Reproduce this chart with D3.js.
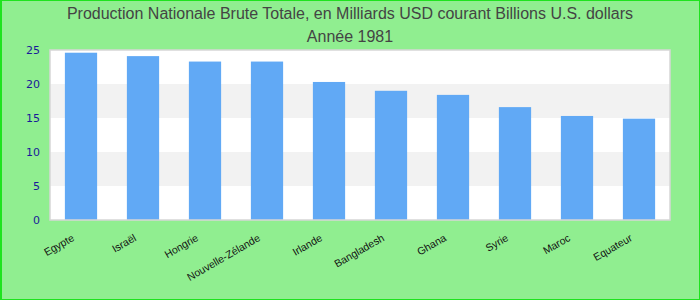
<!DOCTYPE html>
<html><head><meta charset="utf-8">
<script src="https://cdn.jsdelivr.net/npm/d3@7"></script>
<style>body{margin:0;background:#fff}svg{display:block}</style>
</head><body>
<script>
const categories = ["Egypte","Israël","Hongrie","Nouvelle-Zélande","Irlande","Bangladesh","Ghana","Syrie","Maroc","Equateur"];
const values = [24.6, 24.1, 23.3, 23.3, 20.3, 19.0, 18.4, 16.6, 15.3, 14.9];
const yTicks = [0,5,10,15,20,25];
const titleLines = ["Production Nationale Brute Totale, en Milliards USD courant Billions U.S. dollars","Année 1981"];

const W=700,H=300;
const svg=d3.select("body").append("svg").attr("width",W).attr("height",H);
svg.append("rect").attr("x",0).attr("y",0).attr("width",W).attr("height",H).attr("fill","#90ee90");
svg.append("rect").attr("x",1).attr("y",0.5).attr("width",W-1.5).attr("height",H-1).attr("fill","none").attr("stroke","#1ee31e").attr("stroke-width",1);
svg.append("rect").attr("x",0).attr("y",0).attr("width",2).attr("height",H).attr("fill","#1ee31e");

const m={l:50,r:30,t:50,b:80};
const x=d3.scaleBand().domain(categories).range([m.l,W-m.r]).paddingInner(0.48).paddingOuter(0.24);
const y=d3.scaleLinear().domain([0,25]).range([H-m.b,m.t]);

const g=svg.append("g");
g.append("rect").attr("x",m.l).attr("y",m.t).attr("width",W-m.l-m.r).attr("height",H-m.t-m.b).attr("fill","#fff");
for(let i=0;i<yTicks.length-1;i++){
  if(i%2===1){
    g.append("rect").attr("x",m.l).attr("width",W-m.l-m.r)
     .attr("y",y(yTicks[i+1])).attr("height",y(yTicks[i])-y(yTicks[i+1])).attr("fill","#f2f2f2");
  }
}
g.selectAll(".bar").data(values).enter().append("rect")
 .attr("x",(d,i)=>x(categories[i])).attr("width",x.bandwidth())
 .attr("y",d=>y(d)).attr("height",d=>y(0)-y(d)).attr("fill","#61a9f5");
g.append("rect").attr("x",m.l).attr("y",m.t).attr("width",W-m.l-m.r).attr("height",H-m.t-m.b)
 .attr("fill","none").attr("stroke","#d6d6d6").attr("stroke-width",1.5);

const ya=svg.append("g").attr("transform",`translate(${m.l},0)`)
 .call(d3.axisLeft(y).tickValues(yTicks).tickSize(0).tickPadding(10));
ya.select(".domain").remove();
ya.selectAll("text").attr("fill","#1a1a99").style("font-family","DejaVu Sans").style("font-size","11px");

const xa=svg.append("g").attr("transform",`translate(0,${H-m.b})`)
 .call(d3.axisBottom(x).tickSize(0).tickPadding(0));
xa.select(".domain").remove();
xa.selectAll("text").attr("fill","#111").style("font-family","Liberation Sans, Arial").style("font-size","10.5px")
 .attr("text-anchor","end").attr("dy",0).attr("y",0)
 .attr("transform","translate(-6,20) rotate(-30)");

const t=svg.append("g").style("font-family","Liberation Sans, Arial").style("font-size","16px").attr("fill","#444");
titleLines.forEach((s,i)=>t.append("text").attr("x",W/2).attr("y",19+i*23).attr("text-anchor","middle").text(s));
</script>
</body></html>
